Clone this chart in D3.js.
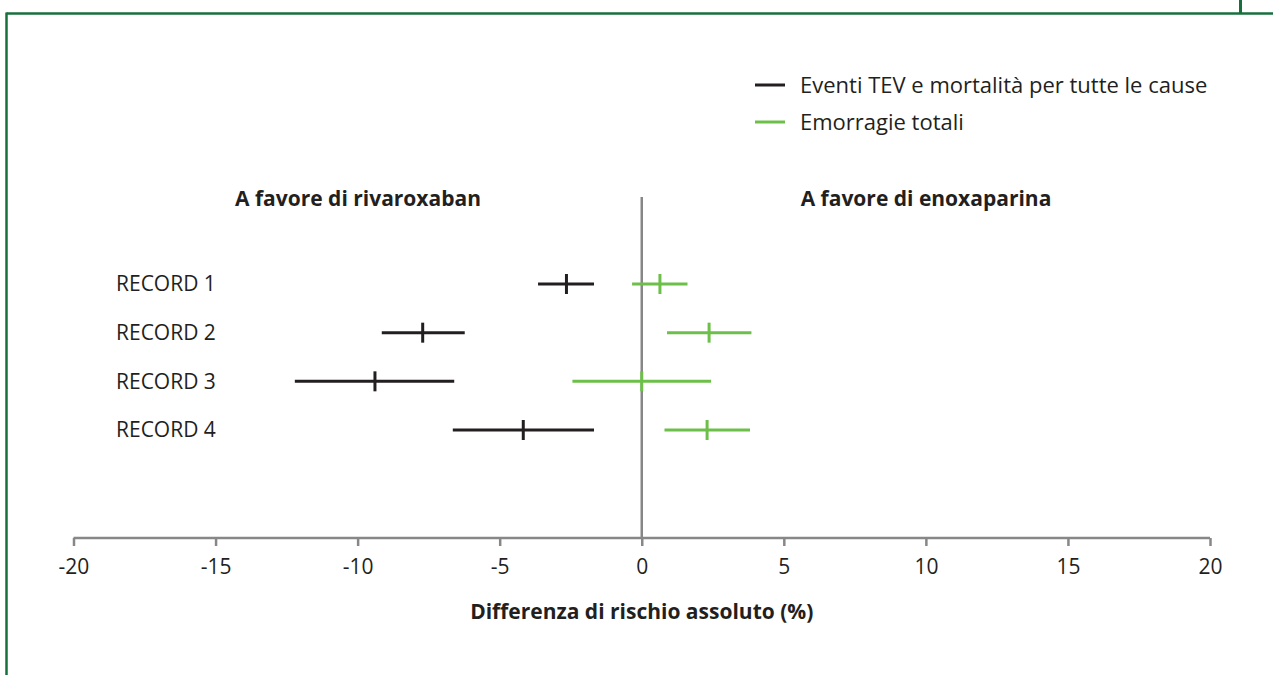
<!DOCTYPE html>
<html lang="it">
<head>
<meta charset="utf-8">
<title>RECORD</title>
<script src="https://d3js.org/d3.v7.min.js"></script>
<style>
    html, body { margin:0; padding:0; background:#fff; }
    svg { display:block; font-family:"Open Sans", "DejaVu Sans", sans-serif; }
</style>
</head>
<body>
<svg width="1273" height="675"></svg>
<script>
    // dati: stima puntuale e intervallo
    var studies = ["RECORD 1", "RECORD 2", "RECORD 3", "RECORD 4"];
    var tevEst  = [-2.65, -7.71, -9.39, -4.17];
    var tevLow  = [-3.65, -9.15, -12.21, -6.65];
    var tevHigh = [-1.68, -6.23, -6.60, -1.68];
    var bleedEst  = [0.64, 2.37, 0.00, 2.30];
    var bleedLow  = [-0.34, 0.89, -2.44, 0.80];
    var bleedHigh = [1.61, 3.86, 2.44, 3.81];
    var seriesNames = ["Eventi TEV e mortalità per tutte le cause", "Emorragie totali"];
    var xTicks = [-20, -15, -10, -5, 0, 5, 10, 15, 20];

    var black = "#231f20", green = "#6cc04a", grey = "#878787", frame = "#17703c";

    var svg = d3.select("svg");

    // cornice verde
    svg.append("line").attr("x1", 6.5).attr("x2", 1273).attr("y1", 13.5).attr("y2", 13.5)
        .attr("stroke", frame).attr("stroke-width", 2.5);
    svg.append("line").attr("x1", 6.5).attr("x2", 6.5).attr("y1", 12.5).attr("y2", 675)
        .attr("stroke", frame).attr("stroke-width", 2.5);
    svg.append("line").attr("x1", 1240.5).attr("x2", 1240.5).attr("y1", 0).attr("y2", 14)
        .attr("stroke", frame).attr("stroke-width", 3);

    var x = d3.scaleLinear().domain([-20, 20]).range([73.5, 1210]);
    var y = d3.scalePoint().domain(studies).range([284, 430]);

    // asse x
    var axis = svg.append("g")
        .attr("transform", "translate(0,538)")
        .call(d3.axisBottom(x).tickValues(xTicks).tickSize(8).tickPadding(13)
            .tickFormat(function(d) { return String(d); }));
    axis.select(".domain").attr("stroke", grey).attr("stroke-width", 2.5)
        .attr("d", "M" + x(-20) + ",0H" + x(20));
    axis.selectAll(".tick line").attr("stroke", grey).attr("stroke-width", 2.5);
    axis.selectAll(".tick text").attr("fill", black)
        .style("font-size", "21px").style("font-family", "'Open Sans', sans-serif");

    svg.append("text").attr("x", x(0)).attr("y", 612).attr("dy", "0.35em")
        .attr("text-anchor", "middle")
        .attr("fill", black).style("font-size", "21px").style("font-weight", "bold")
        .text("Differenza di rischio assoluto (%)");

    // linea dello zero
    svg.append("line").attr("x1", x(0)).attr("x2", x(0)).attr("y1", 197).attr("y2", 538)
        .attr("stroke", grey).attr("stroke-width", 2.5);

    svg.append("text").attr("x", 358).attr("y", 199).attr("dy", "0.35em")
        .attr("text-anchor", "middle")
        .attr("fill", black).style("font-size", "21px").style("font-weight", "bold")
        .text("A favore di rivaroxaban");
    svg.append("text").attr("x", 926).attr("y", 199).attr("dy", "0.35em")
        .attr("text-anchor", "middle")
        .attr("fill", black).style("font-size", "21px").style("font-weight", "bold")
        .text("A favore di enoxaparina");

    // etichette degli studi
    svg.selectAll(".lab").data(studies).enter().append("text")
        .attr("x", 116).attr("y", function(d) { return y(d); })
        .attr("dy", "0.35em").attr("fill", black).style("font-size", "21px")
        .text(function(d) { return d; });

    function drawSeries(est, low, high, color) {
        var g = svg.append("g");
        studies.forEach(function(s, i) {
            g.append("line").attr("x1", x(low[i])).attr("x2", x(high[i]))
                .attr("y1", y(s)).attr("y2", y(s))
                .attr("stroke", color).attr("stroke-width", 3);
            g.append("line").attr("x1", x(est[i])).attr("x2", x(est[i]))
                .attr("y1", y(s) - 10).attr("y2", y(s) + 10)
                .attr("stroke", color).attr("stroke-width", 3);
        });
    }
    drawSeries(tevEst, tevLow, tevHigh, black);
    drawSeries(bleedEst, bleedLow, bleedHigh, green);

    // legenda
    var leg = svg.append("g");
    [black, green].forEach(function(c, i) {
        var yy = 85 + i * 37;
        leg.append("line").attr("x1", 755).attr("x2", 785).attr("y1", yy).attr("y2", yy)
            .attr("stroke", c).attr("stroke-width", 3);
        leg.append("text").attr("x", 800).attr("y", yy).attr("dy", "0.35em")
            .attr("fill", black).style("font-size", "22px").text(seriesNames[i]);
    });
</script>
</body>
</html>
